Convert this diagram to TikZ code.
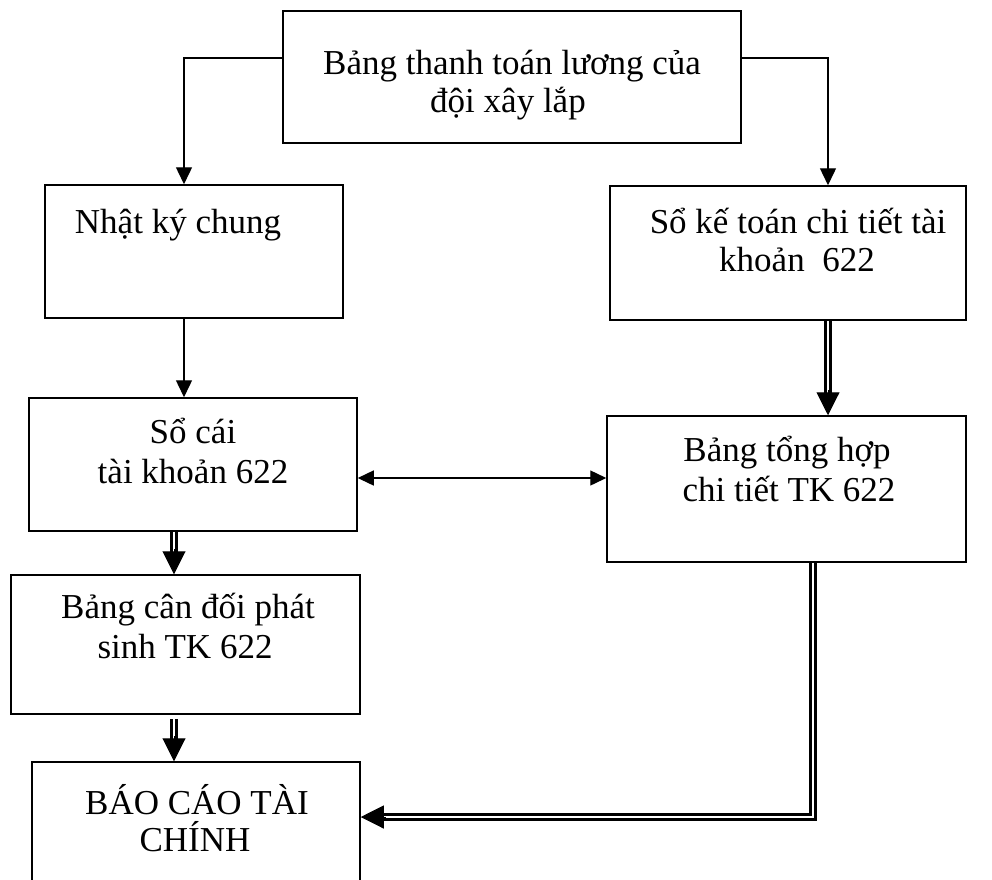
\documentclass[tikz,border=0pt]{standalone}
\usepackage{fontspec}
\setmainfont{Liberation Serif}
\usetikzlibrary{arrows.meta}
\begin{document}
\begin{tikzpicture}[x=1pt,y=-1pt,
  box/.style={draw, line width=1.5pt, inner sep=0pt, anchor=center},
  txt/.style={anchor=base, inner sep=0pt, font=\fontsize{35pt}{40pt}\selectfont},
  arr/.style={line width=1.4pt, -{Triangle[length=17pt,width=16pt]}},
  bidir/.style={line width=1.4pt, {Triangle[length=16pt,width=15pt]}-{Triangle[length=16pt,width=15pt]}},
  dbl/.style={double, double distance=2.8pt, line width=2.2pt},
  bigtip/.style={line width=1pt, -{Triangle[length=23pt,width=23pt]}}]
\useasboundingbox (0,0) rectangle (992,879);
\clip (0,0) rectangle (992,879);
% boxes
\node[box, minimum width=458pt, minimum height=132pt] (top) at (512,77) {};
\node[box, minimum width=298pt, minimum height=133pt] (nk) at (194,251.5) {};
\node[box, minimum width=356pt, minimum height=134pt] (sk) at (788,253) {};
\node[box, minimum width=328pt, minimum height=133pt] (sc) at (193,464.5) {};
\node[box, minimum width=359pt, minimum height=146pt] (th) at (786.5,489) {};
\node[box, minimum width=349pt, minimum height=139pt] (cd) at (185.5,644.5) {};
\node[box, minimum width=328pt, minimum height=138pt] (bc) at (196,831) {};
% texts
\node[txt] (t1) at (512,74) {Bảng thanh toán lương của};
\node[txt] (t2) at (508,112) {đội xây lắp};
\node[txt] (t3) at (178,233) {Nhật ký chung};
\node[txt] (t4) at (798,233) {Sổ kế toán chi tiết tài};
\node[txt] (t5) at (797,271) {khoản~~622};
\node[txt] (t6) at (193,443) {Sổ cái};
\node[txt] (t7) at (193,483) {tài khoản 622};
\node[txt] (t8) at (787,461) {Bảng tổng hợp};
\node[txt] (t9) at (789,501) {chi tiết TK 622};
\node[txt] (t10) at (188,618) {Bảng cân đối phát};
\node[txt] (t11) at (185,658) {sinh TK 622};
\node[txt] (t12) at (197,814) {BÁO CÁO TÀI};
\node[txt] (t13) at (195,851) {CHÍNH};
% connection points
\coordinate (tl) at ([yshift=19pt]top.west);
\coordinate (tr) at ([yshift=19pt]top.east);
\coordinate (nkin) at ([xshift=-10pt]nk.north);
\coordinate (skin) at ([xshift=40pt]sk.north);
\coordinate (nkout) at ([xshift=-10pt]nk.south);
\coordinate (skout) at ([xshift=40pt]sk.south);
\coordinate (scr) at ([yshift=-13.5pt]sc.east);
\coordinate (scout) at ([xshift=-19pt]sc.south);
\coordinate (cdout) at ([xshift=-11.5pt]cd.south);
\coordinate (thout) at ([xshift=26.5pt]th.south);
\coordinate (bcin) at ([yshift=14pt]bc.east);
% connectors
\draw[arr] (tl) -| (nkin);
\draw[arr] (tr) -| (skin);
\draw[arr] (nkout) -- (nkout |- sc.north);
\draw[bidir] (scr) -- (scr -| th.west);
% double arrows
\draw[dbl, shorten >=21pt] (skout) -- (skout |- th.north);
\draw[bigtip] ([yshift=25pt]skout |- th.north) -- (skout |- th.north);
\draw[dbl, shorten >=21pt] (scout) -- (scout |- cd.north);
\draw[bigtip] ([yshift=25pt]scout |- cd.north) -- (scout |- cd.north);
\draw[dbl, shorten >=21pt] ([yshift=-4pt]cdout) -- (cdout |- bc.north);
\draw[bigtip] ([yshift=25pt]cdout |- bc.north) -- (cdout |- bc.north);
\draw[dbl, shorten >=21pt] (thout) |- (bcin);
\draw[bigtip] ([xshift=25pt]bcin) -- (bcin);
\end{tikzpicture}
\end{document}
